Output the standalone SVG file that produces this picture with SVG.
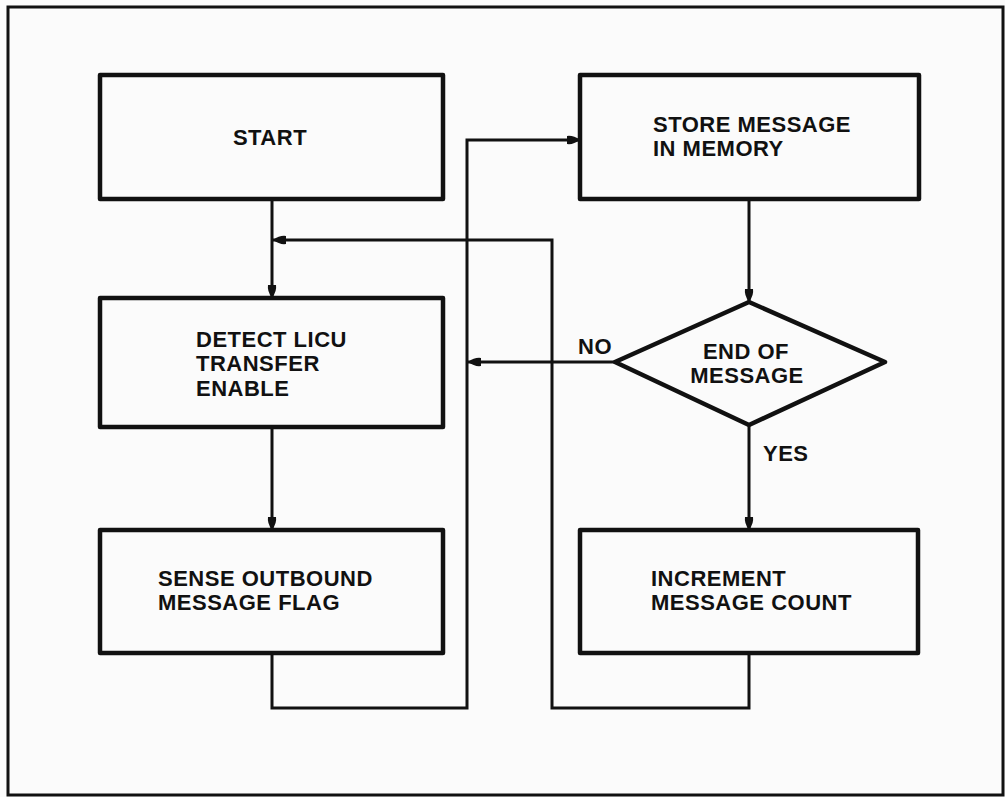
<svg xmlns="http://www.w3.org/2000/svg" width="1005" height="797" viewBox="0 0 1005 797">
<defs>
<style>
.box{fill:none;stroke:#111;stroke-width:4.5;stroke-linejoin:round}
.con{fill:none;stroke:#111;stroke-width:3}
.t{font-family:"Liberation Sans",Arial,sans-serif;font-weight:bold;font-size:22px;fill:#111;letter-spacing:0.5px}
</style>
<marker id="ah" markerUnits="userSpaceOnUse" markerWidth="16" markerHeight="12" refX="13" refY="5" orient="auto">
<path d="M0,1 Q6,0 13,5 Q6,10 0,9 Z" fill="#111"/>
</marker>
</defs>
<rect x="0" y="0" width="1005" height="797" fill="#fbfbfb"/>
<rect x="8" y="7" width="995" height="788" fill="none" stroke="#111" stroke-width="3"/>
<g id="connectors">
<path class="con" d="M272,199 V298" marker-end="url(#ah)"/>
<path class="con" d="M749,653 V708 H552 V240 H273" marker-end="url(#ah)"/>
<path class="con" d="M749,199 V302" marker-end="url(#ah)"/>
<path class="con" d="M749,425 V530" marker-end="url(#ah)"/>
<path class="con" d="M615,362 H468" marker-end="url(#ah)"/>
<path class="con" d="M272,427 V530" marker-end="url(#ah)"/>
<path class="con" d="M272,653 V708 H467 V140 H580" marker-end="url(#ah)"/>
</g>
<g id="start">
<rect class="box" x="100" y="75" width="343" height="124"/>
<text class="t" x="270" y="145" text-anchor="middle">START</text>
</g>
<g id="store">
<rect class="box" x="580" y="75" width="339" height="124"/>
<text class="t" x="653" y="132">STORE MESSAGE</text>
<text class="t" x="653" y="156">IN MEMORY</text>
</g>
<g id="detect">
<rect class="box" x="100" y="298" width="343" height="129"/>
<text class="t" x="196" y="347">DETECT LICU</text>
<text class="t" x="196" y="371">TRANSFER</text>
<text class="t" x="196" y="396">ENABLE</text>
</g>
<g id="sense">
<rect class="box" x="100" y="530" width="343" height="123"/>
<text class="t" x="158" y="586">SENSE OUTBOUND</text>
<text class="t" x="158" y="610">MESSAGE FLAG</text>
</g>
<g id="decision">
<polygon class="box" points="749,302 885,362 749,425 615,362"/>
<text class="t" x="746" y="359" text-anchor="middle">END OF</text>
<text class="t" x="747" y="383" text-anchor="middle">MESSAGE</text>
<text class="t" x="578" y="354">NO</text>
<text class="t" x="763" y="461">YES</text>
</g>
<g id="increment">
<rect class="box" x="580" y="530" width="338" height="123"/>
<text class="t" x="651" y="586">INCREMENT</text>
<text class="t" x="651" y="610">MESSAGE COUNT</text>
</g>
</svg>
